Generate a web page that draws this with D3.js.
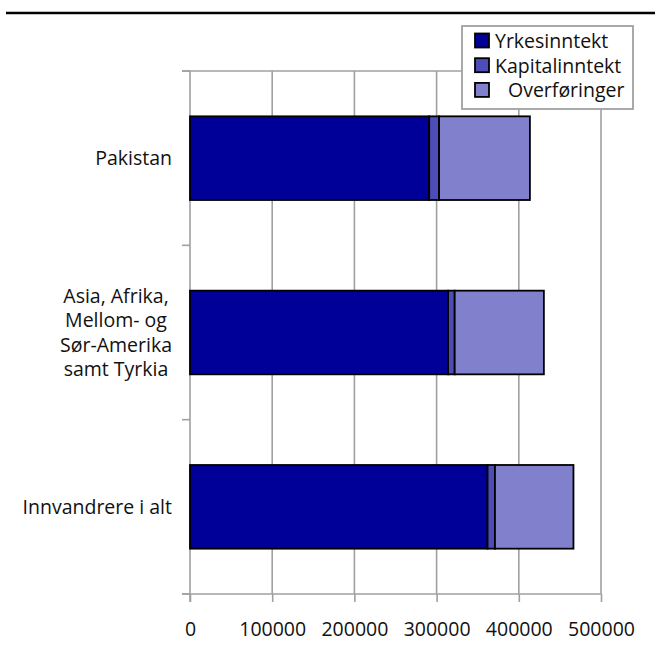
<!DOCTYPE html>
<html><head><meta charset="utf-8">
<script src="https://cdn.jsdelivr.net/npm/d3@7"></script>
<style>body{margin:0;background:#fff}svg{display:block}text{font-family:"Open Sans",sans-serif;fill:#111}</style>
</head><body>
<script>
const categories = ["Pakistan", "Asia, Afrika, Mellom- og Sør-Amerika samt Tyrkia", "Innvandrere i alt"];
const categoryLines = [["Pakistan"], ["Asia, Afrika,", "Mellom- og", "Sør-Amerika", "samt Tyrkia"], ["Innvandrere i alt"]];
const seriesNames = ["Yrkesinntekt", "Kapitalinntekt", "Overføringer"];
const yrkesinntekt = [291000, 314000, 362000];
const kapitalinntekt = [12000, 8000, 9000];
const overforinger = [110500, 108500, 95500];
const xTicks = [0, 100000, 200000, 300000, 400000, 500000];
const colors = ["#000099", "#4d4db8", "#8080cc"];

(function () {
const W = 655, H = 653;
const svg = d3.select("body").append("svg").attr("width", W).attr("height", H);
const pL = 190, pR = 601, pT = 71, pB = 594;
const FS = 19.5;

svg.append("line").attr("x1", 6).attr("x2", 655).attr("y1", 13).attr("y2", 13)
  .attr("stroke", "#000").attr("stroke-width", 2.5);

const x = d3.scaleLinear().domain([0, 500000]).range([pL, pR]);
const y = d3.scaleBand().domain(categories).range([pT, pB]).paddingInner(0.52).paddingOuter(0.26);

const grid = "#a0a0a0";
svg.append("g").selectAll("line").data(xTicks.slice(1)).join("line")
  .attr("x1", d => x(d)).attr("x2", d => x(d)).attr("y1", pT).attr("y2", pB)
  .attr("stroke", grid).attr("stroke-width", 1.6);
svg.append("line").attr("x1", pL - 8).attr("x2", pR).attr("y1", pT).attr("y2", pT)
  .attr("stroke", grid).attr("stroke-width", 1.6);

const xAxis = d3.axisBottom(x).tickValues(xTicks).tickFormat(d => String(d)).tickSizeInner(8).tickSizeOuter(0).tickPadding(20);
const gx = svg.append("g").attr("transform", `translate(0,${pB})`).call(xAxis);
gx.select(".domain").attr("stroke", grid).attr("stroke-width", 1.6).attr("d", `M${pL - 8},0H${pR}`);
gx.selectAll(".tick line").attr("stroke", grid).attr("stroke-width", 1.6);
gx.selectAll(".tick text").attr("font-size", FS).attr("fill", "#111").attr("font-family", "Open Sans");

const bounds = [pT, ...categories.slice(1).map(c => y(c) - y.step() * y.paddingInner() / 2), pB];
svg.append("line").attr("x1", pL).attr("x2", pL).attr("y1", pT).attr("y2", pB + 8)
  .attr("stroke", grid).attr("stroke-width", 1.6);
svg.append("g").selectAll("line").data(bounds).join("line")
  .attr("x1", pL - 8).attr("x2", pL).attr("y1", d => d).attr("y2", d => d)
  .attr("stroke", grid).attr("stroke-width", 1.6);

const rows = categories.map((c, i) => ({cat: c, Yrkesinntekt: yrkesinntekt[i], Kapitalinntekt: kapitalinntekt[i], "Overføringer": overforinger[i]}));
const stack = d3.stack().keys(seriesNames)(rows);
svg.append("g").selectAll("g").data(stack).join("g").attr("fill", (d, i) => colors[i])
  .selectAll("rect").data(d => d).join("rect")
  .attr("x", d => x(d[0])).attr("width", d => x(d[1]) - x(d[0]))
  .attr("y", d => y(d.data.cat)).attr("height", y.bandwidth())
  .attr("stroke", "#000").attr("stroke-width", 1.8);

const labelRight = 172, lineH = 24.5;
categories.forEach((c, i) => {
  const lines = categoryLines[i];
  const g = svg.append("g");
  const cy = y(c) + y.bandwidth() / 2;
  const texts = lines.map((l, j) => g.append("text").text(l).attr("font-size", FS)
    .attr("y", cy + (j - (lines.length - 1) / 2) * lineH).attr("dy", "0.35em"));
  const maxW = d3.max(texts, t => t.node().getComputedTextLength());
  texts.forEach(t => t.attr("text-anchor", "middle").attr("x", labelRight - maxW / 2));
});

const lg = svg.append("g");
lg.append("rect").attr("x", 462).attr("y", 26).attr("width", 171).attr("height", 83)
  .attr("fill", "#fff").attr("stroke", grid).attr("stroke-width", 1.8);
const legendTextX = [495, 495, 508];
seriesNames.forEach((s, i) => {
  const cy = 41 + i * 24.7;
  lg.append("rect").attr("x", 475).attr("y", cy - 7.5).attr("width", 14).attr("height", 14)
    .attr("fill", colors[i]).attr("stroke", "#000").attr("stroke-width", 1.8);
  lg.append("text").text(s).attr("x", legendTextX[i]).attr("y", cy).attr("dy", "0.35em").attr("font-size", FS);
});
})();
</script>
</body></html>
